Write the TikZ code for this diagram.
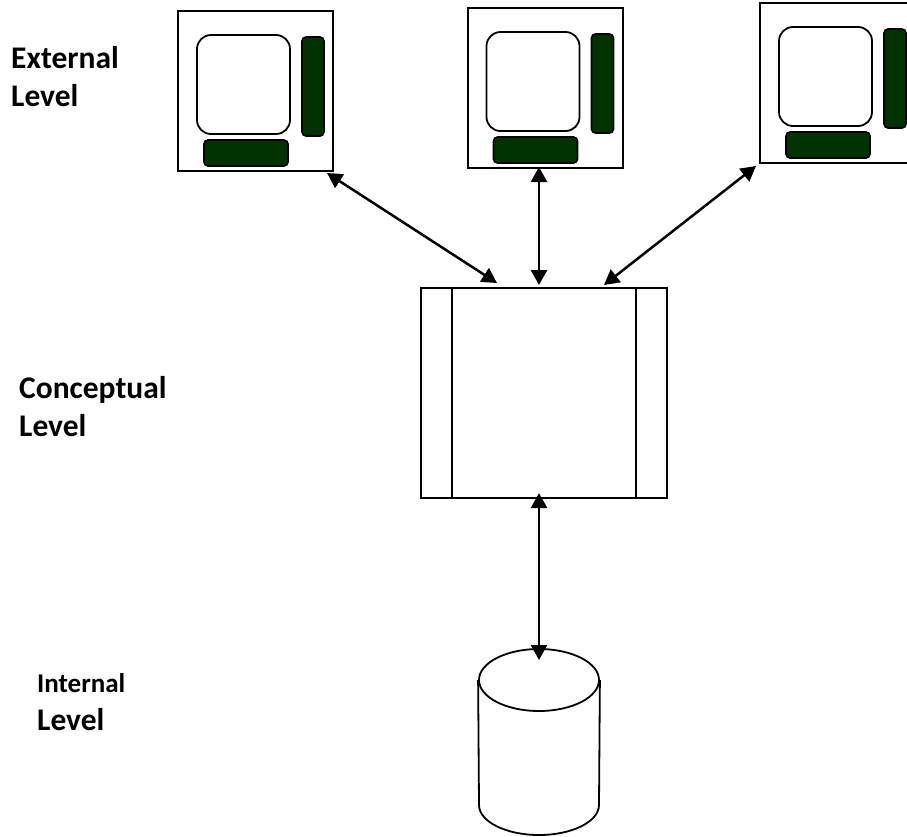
\documentclass[tikz,border=0pt]{standalone}
\usepackage{fontspec}
\setmainfont{Carlito}
\usetikzlibrary{arrows.meta,shapes.geometric}
\definecolor{bardark}{RGB}{0,51,0}
\tikzset{
	screenbox/.style={draw,line width=2pt,minimum width=155pt,minimum height=160pt,inner sep=0pt},
	displaybox/.style={draw,line width=1.8pt,rounded corners=14pt,minimum width=93pt,minimum height=99pt,inner sep=0pt},
	sidebar/.style={draw,line width=1.6pt,fill=bardark,rounded corners=4pt,minimum width=22pt,minimum height=99pt,inner sep=0pt},
	bottombar/.style={draw,line width=1.6pt,fill=bardark,rounded corners=4pt,minimum width=84pt,minimum height=26pt,inner sep=0pt},
	leveltext/.style={anchor=north west,align=left,inner sep=0pt,font=\bfseries\fontsize{31.5}{38.5}\selectfont},
	link/.style={line width=2.5pt,{Triangle[length=15pt,width=16pt]}-{Triangle[length=15pt,width=16pt]}}
}
\begin{document}
\begin{tikzpicture}[x=1pt,y=-1pt]
		\useasboundingbox (0,0) rectangle (907,836);
		%Bildschirme
		\foreach \n/\dx/\dy in {1/0/0,2/289.5/-3,3/582/-8}
		{
			\node[screenbox] (screen\n) at (255.5+\dx,91+\dy) {};
			\node[displaybox] (display\n) at (243.5+\dx,84.5+\dy) {};
			\node[sidebar] (side\n) at (313+\dx,86.5+\dy) {};
			\node[bottombar] (bottom\n) at (246+\dx,153+\dy) {};
		}
		%Mitte
		\node[draw,line width=2pt,minimum width=246pt,minimum height=210pt,inner sep=0pt] (concept) at (544,393) {};
		\draw[line width=1.8pt] (452,288) -- (452,498);
		\draw[line width=1.8pt] (636,288) -- (636,498);
		%Datenbank
		\node[draw,line width=1.8pt,ellipse,minimum width=120pt,minimum height=62pt,inner sep=0pt] (store) at (539,680) {};
		\draw[line width=1.8pt] (store.west) -- (479,805) arc[start angle=180,end angle=0,x radius=60,y radius=30] -- (store.east);
		%Pfeile
		\coordinate (s1) at (327,173);
		\coordinate (c1) at (497,283);
		\coordinate (s3) at (756,166);
		\coordinate (c3) at (604,285);
		\coordinate (c2) at (539,285);
		\coordinate (s2) at (539,167);
		\coordinate (c4) at (539,493);
		\coordinate (d4) at (539,660);
		\draw[link] (s1) -- (c1);
		\draw[link] (s2) -- (c2);
		\draw[link] (s3) -- (c3);
		\draw[link] (c4) -- (d4);
		%Beschriftung
		\node[leveltext] (external) at (11,46) {External\\Level};
		\node[leveltext] (conceptual) at (19,376) {Conceptual\\Level};
		\node[leveltext,font=\bfseries\fontsize{27}{38}\selectfont] (internal) at (37,673) {Internal\\{\fontsize{31.5}{38}\selectfont Level}};
	\end{tikzpicture}
\end{document}
